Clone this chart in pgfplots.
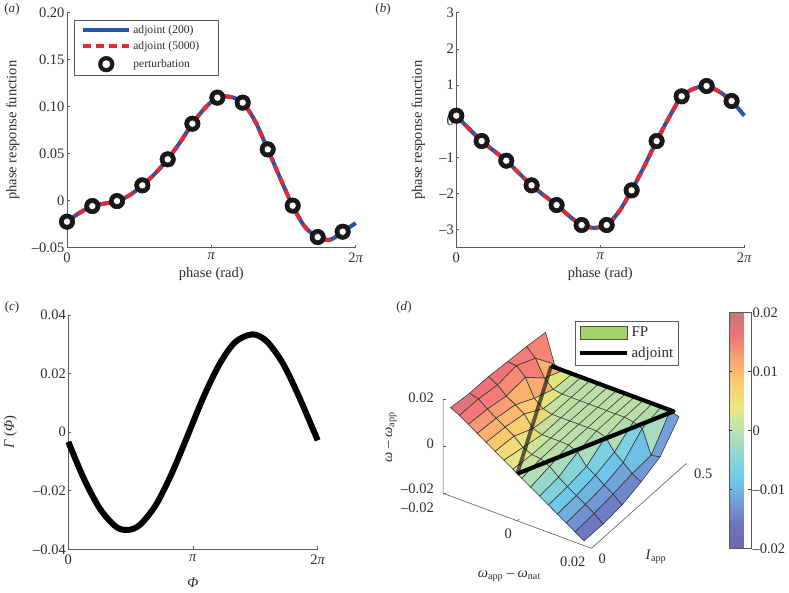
\documentclass[border=0pt]{standalone}
\usepackage{fontspec}
\setmainfont{Liberation Serif}
\usepackage{pgfplots}
\pgfplotsset{compat=1.18}
\definecolor{adjblue}{RGB}{40,85,165}
\definecolor{adjred}{RGB}{230,40,50}
\definecolor{txt}{RGB}{45,45,45}
\definecolor{axline}{RGB}{90,90,90}
\definecolor{fpgreen}{RGB}{165,210,105}
\newcommand\lblfont{\fontsize{14.5}{16}\selectfont}
\pgfplotsset{
  colormap={tongue}{
    rgb255=(110,105,170); rgb255=(110,115,190); rgb255=(115,160,215);
    rgb255=(110,205,235); rgb255=(145,215,205); rgb255=(190,225,175);
    rgb255=(232,232,130); rgb255=(250,205,110); rgb255=(248,165,115);
    rgb255=(242,115,120); rgb255=(190,120,120)
  },
  panel/.style={
    scale only axis, clip=false, scaled ticks=false,
    axis lines=left, axis line style={-,draw=axline,line width=.6pt},
    tick style={draw=axline,line width=.6pt}, tick align=inside,
    major tick length=3pt,
    xmin=0, xmax=6.28319,
    xtick={0,3.14159,6.28319},
    xticklabels={0,\textit{π},2\textit{π}},
    tick label style={font=\lblfont,text=txt},
    xticklabel style={yshift=-2pt},
    yticklabel style={xshift=1pt},
  },
  xlab/.style={every axis x label/.style={at={(axis description cs:0.5,0)},anchor=center,yshift=-#1,font=\lblfont,text=txt}},
  ylab/.style={every axis y label/.style={at={(axis description cs:0,0.5)},anchor=center,rotate=90,yshift=#1,font=\lblfont,text=txt}},
  blueline/.style={adjblue,line width=4pt,no markers,smooth},
  redline/.style={adjred,line width=4pt,no markers,smooth,dash pattern=on 8pt off 5pt},
  ringout/.style={forget plot,only marks,mark=*,mark size=7.8pt,mark options={draw=none,fill=black!90}},
  ringin/.style={forget plot,only marks,mark=*,mark size=3.6pt,mark options={draw=none,fill=white}},
}
\begin{document}
\begin{tikzpicture}
\path[use as bounding box] (0pt,0pt) rectangle (789pt,593pt);

% (a)
\begin{axis}[panel, at={(67pt,345.3pt)}, anchor=south west,
  width=288.7pt, height=235pt,
  ymin=-0.05, ymax=0.2,
  ytick={-0.05,0,0.05,0.1,0.15,0.2},
  yticklabels={–0.05,0,0.05,0.10,0.15,0.20},
  xlabel={phase (rad)}, ylabel={phase response function},
  xlab=26.3pt, ylab=54.3pt,
  legend style={at={(7pt,228pt)},anchor=north west,draw=axline,line width=.6pt,
    font=\fontsize{11.6}{13}\selectfont,text=txt,inner xsep=7pt,inner ysep=3pt,
    row sep=3pt,cells={anchor=west}},
  legend image code/.code={\draw[#1] (0pt,0pt) -- (46pt,0pt);},
]
\addplot[blueline] coordinates {
  (0,-0.0223)(0.27,-0.013)(0.55,-0.0057)(0.82,-0.003)(1.09,-0.0004)(1.37,0.006)
  (1.64,0.0163)(1.92,0.029)(2.19,0.044)(2.46,0.062)(2.73,0.0819)(3.0,0.0985)
  (3.27,0.1096)(3.55,0.1105)(3.82,0.1043)(4.09,0.085)(4.37,0.0546)(4.64,0.024)
  (4.91,-0.0053)(5.18,-0.028)(5.46,-0.0387)(5.73,-0.0415)(6.0,-0.033)(6.283,-0.0238)};
\addlegendentry{adjoint (200)}
\addplot[redline] coordinates {
  (0,-0.0223)(0.27,-0.013)(0.55,-0.0057)(0.82,-0.003)(1.09,-0.0004)(1.37,0.006)
  (1.64,0.0163)(1.92,0.029)(2.19,0.044)(2.46,0.062)(2.73,0.0819)(3.0,0.0985)
  (3.27,0.1096)(3.55,0.1105)(3.82,0.1043)(4.09,0.085)(4.37,0.0546)(4.64,0.024)
  (4.91,-0.0053)(5.18,-0.028)(5.46,-0.0387)(5.73,-0.0415)(6.0,-0.033)};
\addlegendentry{adjoint (5000)\hspace*{10pt}}
\addlegendimage{legend image code/.code={\fill[black!90] (23pt,0pt) circle (7.8pt);\fill[white] (23pt,0pt) circle (3.6pt);}}
\addlegendentry{perturbation}
\addplot[ringout] coordinates {
  (0,-0.0223)(0.551,-0.0057)(1.088,-0.0004)(1.640,0.0163)(2.192,0.044)(2.729,0.0819)
  (3.273,0.1096)(3.824,0.1043)(4.368,0.0546)(4.912,-0.0053)(5.456,-0.0387)(6.0,-0.033)};
\addplot[ringin] coordinates {
  (0,-0.0223)(0.551,-0.0057)(1.088,-0.0004)(1.640,0.0163)(2.192,0.044)(2.729,0.0819)
  (3.273,0.1096)(3.824,0.1043)(4.368,0.0546)(4.912,-0.0053)(5.456,-0.0387)(6.0,-0.033)};
\end{axis}

% (b)
\begin{axis}[panel, at={(456.3pt,345.3pt)}, anchor=south west,
  width=288pt, height=235pt,
  ymin=-3.5, ymax=3,
  ytick={-3,-2,-1,0,1,2,3},
  yticklabels={–3,–2,–1,0,1,2,3},
  xlabel={phase (rad)}, ylabel={phase response function},
  xlab=26.3pt, ylab=38pt,
]
\addplot[blueline] coordinates {
  (0,0.151)(0.27,-0.2)(0.55,-0.55)(0.82,-0.82)(1.09,-1.094)(1.37,-1.44)(1.64,-1.776)
  (1.92,-2.06)(2.19,-2.32)(2.46,-2.62)(2.73,-2.873)(3.0,-2.95)(3.28,-2.873)(3.55,-2.5)
  (3.825,-1.914)(4.1,-1.25)(4.37,-0.55)(4.64,0.1)(4.916,0.686)(5.19,0.9)(5.46,0.972)
  (5.73,0.82)(6.006,0.557)(6.283,0.151)};
\addplot[redline] coordinates {
  (0,0.151)(0.27,-0.2)(0.55,-0.55)(0.82,-0.82)(1.09,-1.094)(1.37,-1.44)(1.64,-1.776)
  (1.92,-2.06)(2.19,-2.32)(2.46,-2.62)(2.73,-2.873)(3.0,-2.95)(3.28,-2.873)(3.55,-2.5)
  (3.825,-1.914)(4.1,-1.25)(4.37,-0.55)(4.64,0.1)(4.916,0.686)(5.19,0.9)(5.46,0.972)
  (5.73,0.82)(6.006,0.557)};
\addplot[ringout] coordinates {
  (0,0.151)(0.553,-0.55)(1.09,-1.094)(1.643,-1.776)(2.188,-2.32)(2.734,-2.873)
  (3.28,-2.873)(3.825,-1.914)(4.37,-0.55)(4.916,0.686)(5.46,0.972)(6.006,0.557)};
\addplot[ringin] coordinates {
  (0,0.151)(0.553,-0.55)(1.09,-1.094)(1.643,-1.776)(2.188,-2.32)(2.734,-2.873)
  (3.28,-2.873)(3.825,-1.914)(4.37,-0.55)(4.916,0.686)(5.46,0.972)(6.006,0.557)};
\end{axis}

% (c)
\begin{axis}[panel, at={(68.3pt,43.7pt)}, anchor=south west,
  width=249.4pt, height=234.3pt,
  ymin=-0.04, ymax=0.04,
  ytick={-0.04,-0.02,0,0.02,0.04},
  yticklabels={–0.04,–0.02,0,0.02,0.04},
  xlabel={\textit{Φ}}, ylabel={\textit{Γ} (\textit{Φ})},
  xlab=33.7pt, ylab=58pt,
]
\addplot[black,line width=6pt,smooth,no markers,line cap=butt] coordinates {
  (0,-0.0033)(0.4,-0.0161)(0.8,-0.0262)(1.2,-0.0323)(1.5,-0.0334)(1.8,-0.0317)
  (2.2,-0.025)(2.6,-0.0143)(3.0,-0.0014)(3.4,0.0118)(3.8,0.023)(4.2,0.0307)
  (4.64,0.0334)(5.0,0.031)(5.4,0.0236)(5.8,0.0125)(6.283,-0.0028)};
\end{axis}

% (d)
\begin{axis}[at={(517.3pt,119.3pt)}, anchor=origin, hide axis, clip=false,
  x={(3708pt,-1375pt)}, y={(190pt,170pt)}, z={(0pt,2358pt)},
  xmin=-0.02, xmax=0.02, ymin=0, ymax=0.5, zmin=-0.02, zmax=0.02,
  colormap name=tongue, point meta min=-0.02, point meta max=0.02,
]
\addplot3[surf, shader=flat corner, draw=black!80, line width=.55pt,
  mesh/ordering=y varies, mesh/rows=6, mesh/cols=16] coordinates {
  (-0.0180,0,0.0175)(-0.0180,0.1,0.0164)(-0.0180,0.2,0.0163)(-0.0180,0.3,0.0154)(-0.0180,0.4,0.0146)(-0.0180,0.5,0.0134)
  (-0.0156,0,0.0156)(-0.0156,0.1,0.0154)(-0.0156,0.2,0.0141)(-0.0156,0.3,0.0151)(-0.0156,0.4,0.0110)(-0.0156,0.5,0.0013)
  (-0.0132,0,0.0132)(-0.0132,0.1,0.0125)(-0.0132,0.2,0.0108)(-0.0132,0.3,0.0115)(-0.0132,0.4,0.0040)(-0.0132,0.5,0)
  (-0.0108,0,0.0108)(-0.0108,0.1,0.0100)(-0.0108,0.2,0.0085)(-0.0108,0.3,0.0040)(-0.0108,0.4,0.0006)(-0.0108,0.5,0)
  (-0.0084,0,0.0084)(-0.0084,0.1,0.0076)(-0.0084,0.2,0.0060)(-0.0084,0.3,0.0010)(-0.0084,0.4,0)(-0.0084,0.5,0)
  (-0.0060,0,0.0060)(-0.0060,0.1,0.0052)(-0.0060,0.2,0.0012)(-0.0060,0.3,0)(-0.0060,0.4,0)(-0.0060,0.5,0)
  (-0.0036,0,0.0036)(-0.0036,0.1,0.0018)(-0.0036,0.2,0)(-0.0036,0.3,0)(-0.0036,0.4,0)(-0.0036,0.5,0)
  (-0.0012,0,0.0012)(-0.0012,0.1,0.0002)(-0.0012,0.2,0)(-0.0012,0.3,0)(-0.0012,0.4,0)(-0.0012,0.5,0)
  (0.0012,0,-0.0012)(0.0012,0.1,-0.0002)(0.0012,0.2,0)(0.0012,0.3,0)(0.0012,0.4,0)(0.0012,0.5,0)
  (0.0036,0,-0.0036)(0.0036,0.1,-0.0020)(0.0036,0.2,-0.0002)(0.0036,0.3,0)(0.0036,0.4,0)(0.0036,0.5,0)
  (0.0060,0,-0.0060)(0.0060,0.1,-0.0052)(0.0060,0.2,-0.0018)(0.0060,0.3,0)(0.0060,0.4,0)(0.0060,0.5,0)
  (0.0084,0,-0.0084)(0.0084,0.1,-0.0078)(0.0084,0.2,-0.0065)(0.0084,0.3,-0.0012)(0.0084,0.4,0)(0.0084,0.5,0)
  (0.0108,0,-0.0108)(0.0108,0.1,-0.0102)(0.0108,0.2,-0.0088)(0.0108,0.3,-0.0062)(0.0108,0.4,-0.0006)(0.0108,0.5,0)
  (0.0132,0,-0.0132)(0.0132,0.1,-0.0126)(0.0132,0.2,-0.0116)(0.0132,0.3,-0.0092)(0.0132,0.4,-0.0020)(0.0132,0.5,0)
  (0.0156,0,-0.0156)(0.0156,0.1,-0.0150)(0.0156,0.2,-0.0140)(0.0156,0.3,-0.0125)(0.0156,0.4,-0.0120)(0.0156,0.5,-0.0003)
  (0.0180,0,-0.0180)(0.0180,0.1,-0.0181)(0.0180,0.2,-0.0172)(0.0180,0.3,-0.0146)(0.0180,0.4,-0.0112)(0.0180,0.5,-0.0014)
};
% FP region
\addplot3[draw=none,fill=fpgreen,fill opacity=.1] coordinates {(0,0,0)(-0.0165,0.5,0)(0.0165,0.5,0)} -- cycle;
% boundary seen through the surface
\addplot3[black,opacity=.6,line width=3.8pt,no markers] coordinates {(0,0,0)(-0.0165,0.5,0)};
\addplot3[black,line width=4.2pt,no markers,line join=round] coordinates {(-0.0165,0.5,0)(0.0165,0.5,0)(0,0,0)};
% axes
\draw[axline,line width=.6pt] (axis cs:-0.02,0,0.02) -- (axis cs:-0.02,0,-0.02) -- (axis cs:0.02,0,-0.02) -- (axis cs:0.02,0.5,-0.02);
\draw[axline,line width=.6pt] (axis cs:-0.02,0,0.02) -- ++(3pt,0pt);
\draw[axline,line width=.6pt] (axis cs:-0.02,0,0) -- ++(3pt,0pt);
\draw[axline,line width=.6pt] (axis cs:-0.02,0,-0.02) -- ++(3pt,0pt);
\draw[axline,line width=.6pt] (axis cs:0,0,-0.02) -- ++(2pt,1.8pt);
\end{axis}

% legend of (d)
\begin{axis}[at={(575pt,229pt)}, anchor=south west, hide axis, scale only axis,
  width=104.3pt, height=43.3pt, xmin=0, xmax=1, ymin=0, ymax=1,
  legend style={at={(0,1)},anchor=north west,draw=axline,line width=.6pt,
    font=\fontsize{15}{16}\selectfont,text=txt,inner xsep=3pt,inner ysep=4pt,
    row sep=5pt,cells={anchor=west}},
]
\addlegendimage{legend image code/.code={\draw[draw=black!70,fill=fpgreen,line width=.6pt] (0pt,-6.5pt) rectangle (47pt,6.5pt);}}
\addlegendentry{FP}
\addlegendimage{legend image code/.code={\draw[black,line width=4.2pt] (0pt,0pt) -- (47pt,0pt);}}
\addlegendentry{adjoint}
\end{axis}

% colour bar of (d)
\pgfplotscolorbardrawstandalone[colormap name=tongue, point meta min=-0.02, point meta max=0.02,
  colorbar style={at={(720.8pt,44.7pt)}, anchor=south west, scale only axis,
    width=21.7pt, height=236pt, scaled ticks=false,
    ytick={-0.02,-0.01,0,0.01,0.02},
    yticklabels={–0.02,–0.01,0,0.01,0.02},
    tick align=inside, major tick length=3pt,
    tick style={draw=black!80,line width=.6pt},
    axis line style={draw=axline,line width=.6pt},
    yticklabel style={font=\lblfont,text=txt,xshift=-2pt}}]

% labels of (d)
\begin{scope}[font=\lblfont,text=txt]
\node[anchor=east] at (437.3pt,195.7pt) {0.02};
\node[anchor=east] at (437.3pt,149pt) {0};
\node[anchor=east] at (437.3pt,104.7pt) {–0.02};
\node[anchor=east] at (437.3pt,85.7pt) {–0.02};
\node at (508.3pt,59.7pt) {0};
\node at (572.7pt,31.3pt) {0.02};
\node at (602.3pt,34.7pt) {0};
\node at (703.3pt,119pt) {0.5};
\node at (509.3pt,17pt) {\textit{ω}\textsubscript{app} – \textit{ω}\textsubscript{nat}};
\node at (656pt,36.3pt) {\textit{I}\textsubscript{app}};
\node[rotate=90] at (391pt,156pt) {\textit{ω} – \textit{ω}\textsubscript{app}};
\end{scope}

% panel letters
\begin{scope}[font=\fontsize{13}{15}\selectfont,text=txt]
\node at (12pt,584pt) {(\textit{a})};
\node at (383pt,584pt) {(\textit{b})};
\node at (12pt,286pt) {(\textit{c})};
\node at (404pt,286pt) {(\textit{d})};
\end{scope}
\end{tikzpicture}
\end{document}
